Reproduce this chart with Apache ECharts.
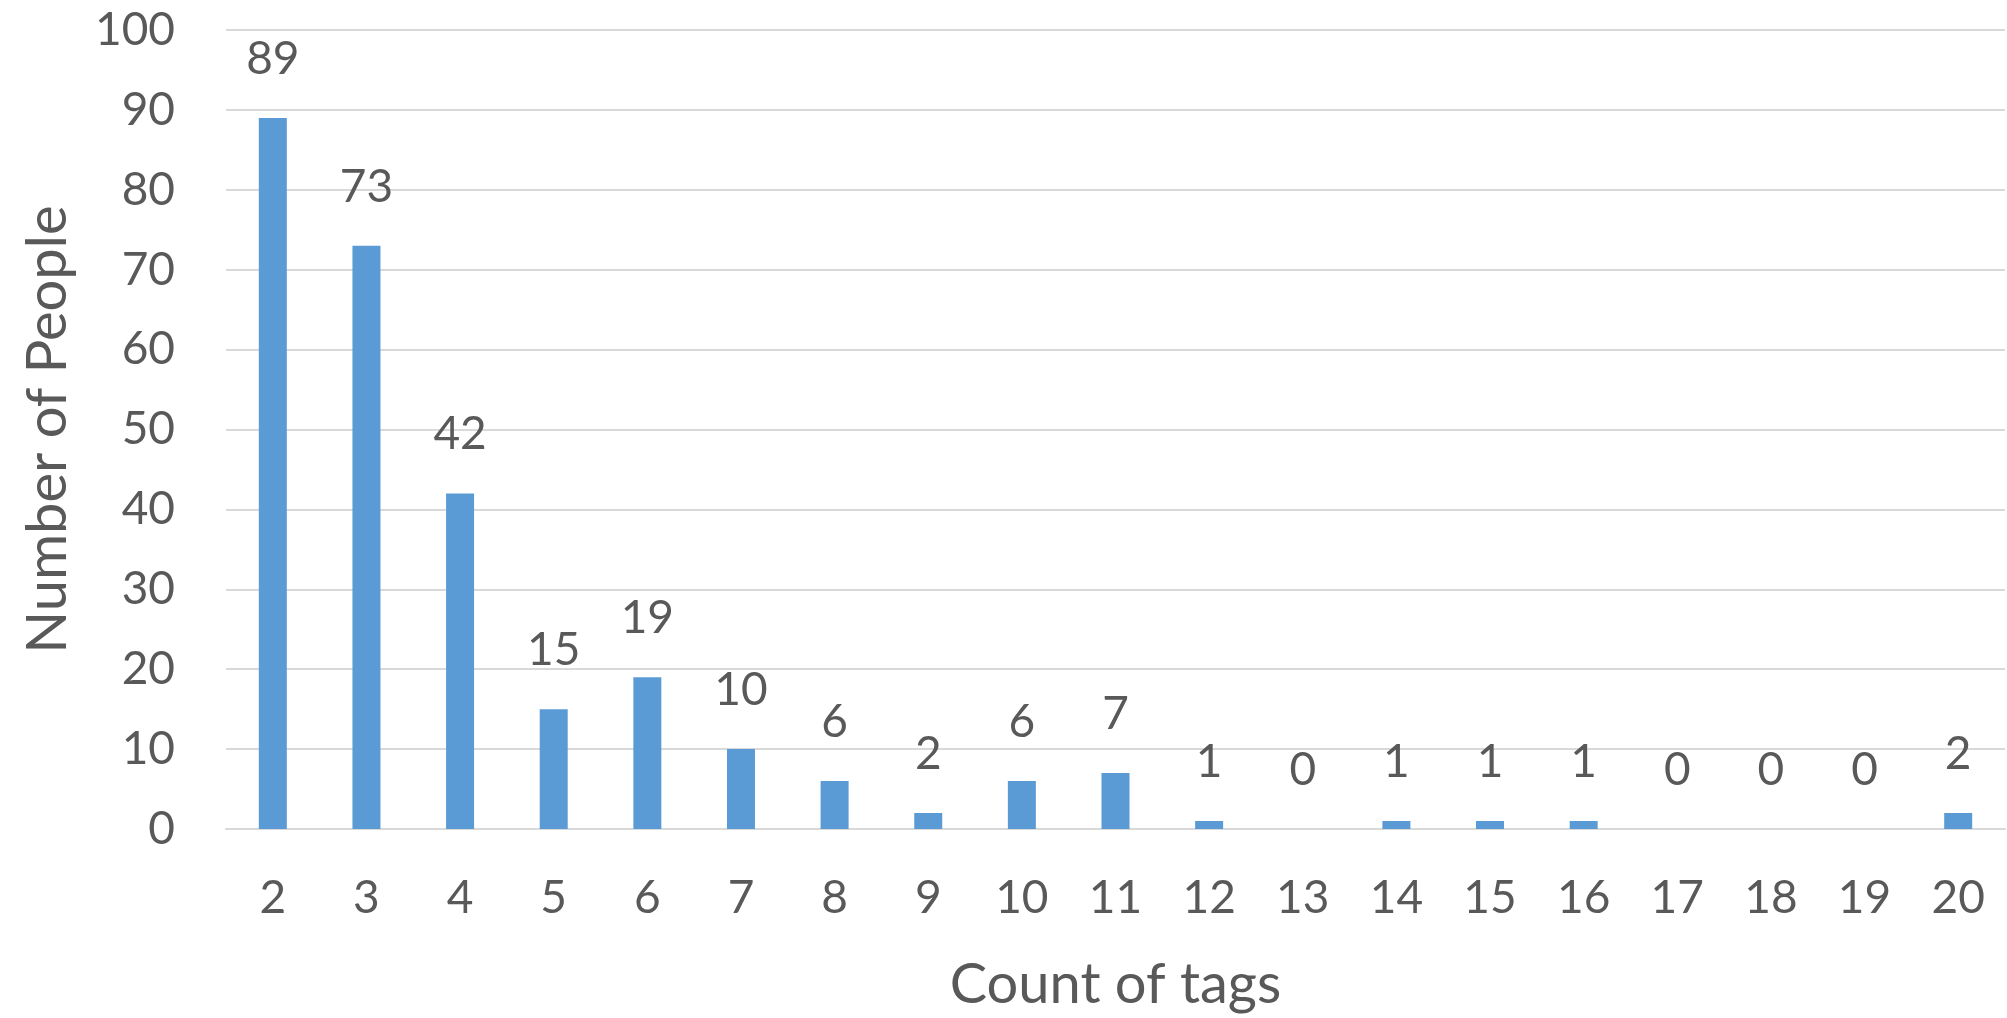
<!DOCTYPE html>
<html>
<head>
<meta charset="utf-8">
<script src="https://cdn.jsdelivr.net/npm/echarts@6/dist/echarts.min.js"></script>
<style>
html,body{margin:0;padding:0;background:#fff;}
#chart{width:2007px;height:1018px;}
</style>
</head>
<body>
<div id="chart"></div>
<script>
const categories = ['2','3','4','5','6','7','8','9','10','11','12','13','14','15','16','17','18','19','20'];
const people = [89,73,42,15,19,10,6,2,6,7,1,0,1,1,1,0,0,0,2];
const yTicks = [0,10,20,30,40,50,60,70,80,90,100];
const xTitle = 'Count of tags';
const yTitle = 'Number of People';

const FONT = 'Lato';
const TXT = '#595959';
const chart = echarts.init(document.getElementById('chart'), null, {renderer: 'canvas'});
chart.setOption({
  backgroundColor: '#ffffff',
  animation: false,
  grid: {left: 226, right: 2, top: 30, bottom: 189, containLabel: false},
  xAxis: {
    type: 'category',
    data: categories,
    axisLine: {show: true, lineStyle: {color: '#D9D9D9', width: 2}},
    axisTick: {show: false},
    axisLabel: {color: TXT, fontFamily: FONT, fontSize: 46, margin: 46},
    name: xTitle,
    nameLocation: 'middle',
    nameGap: 128,
    nameTextStyle: {color: TXT, fontFamily: FONT, fontSize: 56}
  },
  yAxis: {
    type: 'value',
    min: yTicks[0],
    max: yTicks[yTicks.length - 1],
    interval: yTicks[1] - yTicks[0],
    axisLine: {show: false},
    axisTick: {show: false},
    splitLine: {show: true, lineStyle: {color: '#D9D9D9', width: 2}},
    axisLabel: {color: TXT, fontFamily: FONT, fontSize: 46, margin: 51},
    name: yTitle,
    nameLocation: 'middle',
    nameGap: 150,
    nameRotate: 90,
    nameTextStyle: {color: TXT, fontFamily: FONT, fontSize: 56}
  },
  series: [{
    type: 'bar',
    data: people,
    barWidth: 28,
    itemStyle: {color: '#5B9BD5'},
    label: {show: true, position: 'top', distance: 36, color: TXT, fontFamily: FONT, fontSize: 46}
  }]
});
</script>
</body>
</html>
